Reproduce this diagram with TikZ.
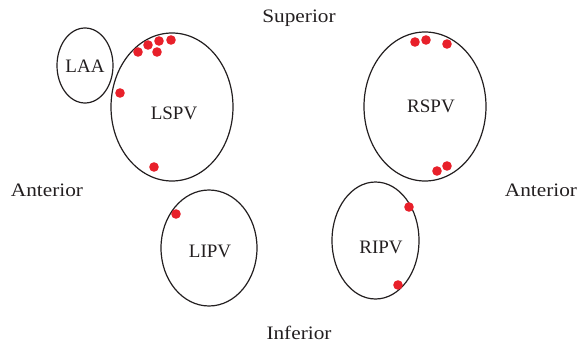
\documentclass[tikz,border=0pt]{standalone}
\usepackage{fontspec}
\setmainfont{Liberation Serif}
\newfontfamily\widefont[FakeStretch=1.12]{Liberation Serif}
\definecolor{ink}{HTML}{231F20}
\definecolor{dotred}{HTML}{E8202A}
\begin{document}
\begin{tikzpicture}[x=1pt,y=-1pt,
  vein/.style={draw=ink,line width=1.2pt},
  lbl/.style={text=ink,font=\fontsize{19}{22}\selectfont,inner sep=0pt},
  dirlbl/.style={text=ink,font=\widefont\fontsize{19}{22}\selectfont,inner sep=0pt},
  pt/.style={fill=dotred,draw=none}]
\useasboundingbox (0,0) rectangle (581,345);
% ellipses
\draw[vein] (85,65.5) ellipse [x radius=28, y radius=37.5];
\draw[vein] (172,107) ellipse [x radius=61, y radius=74];
\draw[vein] (425,106.5) ellipse [x radius=61, y radius=74.5];
\draw[vein] (209,248) ellipse [x radius=48, y radius=58];
\draw[vein] (375.5,240.5) ellipse [x radius=43.5, y radius=58.5];
% labels
\node[lbl] (laa) at (85,66) {LAA};
\node[lbl] (lspv) at (174,113) {LSPV};
\node[lbl] (rspv) at (431,106) {RSPV};
\node[lbl] (lipv) at (210,251) {LIPV};
\node[lbl] (ripv) at (381,247) {RIPV};
\node[dirlbl] (sup) at (299,18) {Superior};
\node[dirlbl] (inf) at (299,333) {Inferior};
\node[dirlbl] (antl) at (47,190) {Anterior};
\node[dirlbl] (antr) at (541,190) {Anterior};
% dots
\foreach \p in {(138,52),(148,45),(159,41),(171,40),(157,52),(120,93),(154,167),
                (415,42),(426,40),(447,44),(437,171),(447,166),
                (176,214),(409,207),(398,285)}
  \fill[pt] \p circle (4.8);
\end{tikzpicture}
\end{document}
